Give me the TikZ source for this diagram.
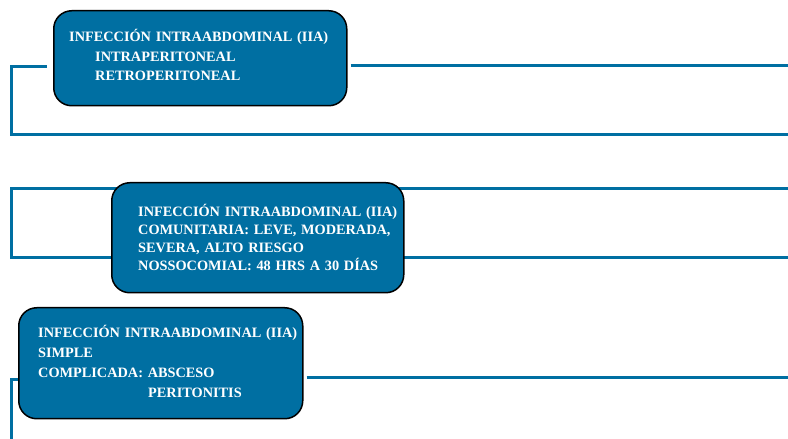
\documentclass[tikz,border=0pt]{standalone}
\usepackage{fontspec}
\setmainfont{Liberation Serif}
\usetikzlibrary{backgrounds}
\definecolor{iiablue}{RGB}{0,111,162}

\begin{document}
\begin{tikzpicture}[x=1pt,y=1pt,
    box/.style={draw=black,line width=1.5pt,fill=iiablue,rounded corners=18pt,anchor=north west},
    txt/.style={anchor=base west,inner sep=0pt,text=white,align=left,text width=290pt},
    link/.style={draw=iiablue,line width=3pt}]
  \useasboundingbox (0,0) rectangle (788,439);
  % boxes
  \node[box,minimum width=293pt,minimum height=95pt] (b1) at (53,429) {};
  \node[box,minimum width=292pt,minimum height=110pt] (b2) at (111,257) {};
  \node[box,minimum width=284pt,minimum height=111pt] (b3) at (18,132) {};
  % texts
  \node[txt,font=\fontsize{14.3}{19.5}\selectfont\bfseries] (t1) at ([xshift=16,yshift=-32]b1.north west)
    {INFECCIÓN INTRAABDOMINAL (IIA)\\
     \hspace*{26pt}INTRAPERITONEAL\\
     \hspace*{26pt}RETROPERITONEAL};
  \node[txt,font=\fontsize{14.3}{18}\selectfont\bfseries] (t2) at ([xshift=27,yshift=-35]b2.north west)
    {INFECCIÓN INTRAABDOMINAL (IIA)\\
     COMUNITARIA: LEVE, MODERADA,\\
     SEVERA, ALTO RIESGO\\
     NOSSOCOMIAL: 48 HRS A 30 DÍAS};
  \node[txt,font=\fontsize{14.3}{20}\selectfont\bfseries] (t3) at ([xshift=20,yshift=-31]b3.north west)
    {INFECCIÓN INTRAABDOMINAL (IIA)\\
     SIMPLE\\
     COMPLICADA: ABSCESO\\
     \hspace*{110pt}PERITONITIS};
  % connectors
  \coordinate (edge) at (788,0);
  \coordinate (rail) at (11,0);
  \begin{pgfonlayer}{background}
    \draw[link] ([xshift=-6,yshift=-8]b1.west) -- ([yshift=-8]b1.west -| rail)
      -- ([yshift=-76]b1.west -| rail) -- ([yshift=-76]b1.west -| edge);
    \draw[link] ([xshift=3,yshift=-7]b1.east) -- ([yshift=-7]b1.east -| edge);
    \draw[link] ([yshift=-7]b2.north -| edge) -- ([yshift=-7]b2.north -| rail)
      -- ([yshift=36]b2.south -| rail) -- ([yshift=36]b2.south -| edge);
    \draw[link] ([yshift=-16]b3.west) -- ([yshift=-16]b3.west -| rail) -- (rail);
    \draw[link] ([xshift=3,yshift=-14]b3.east) -- ([yshift=-14]b3.east -| edge);
  \end{pgfonlayer}
\end{tikzpicture}
\end{document}
